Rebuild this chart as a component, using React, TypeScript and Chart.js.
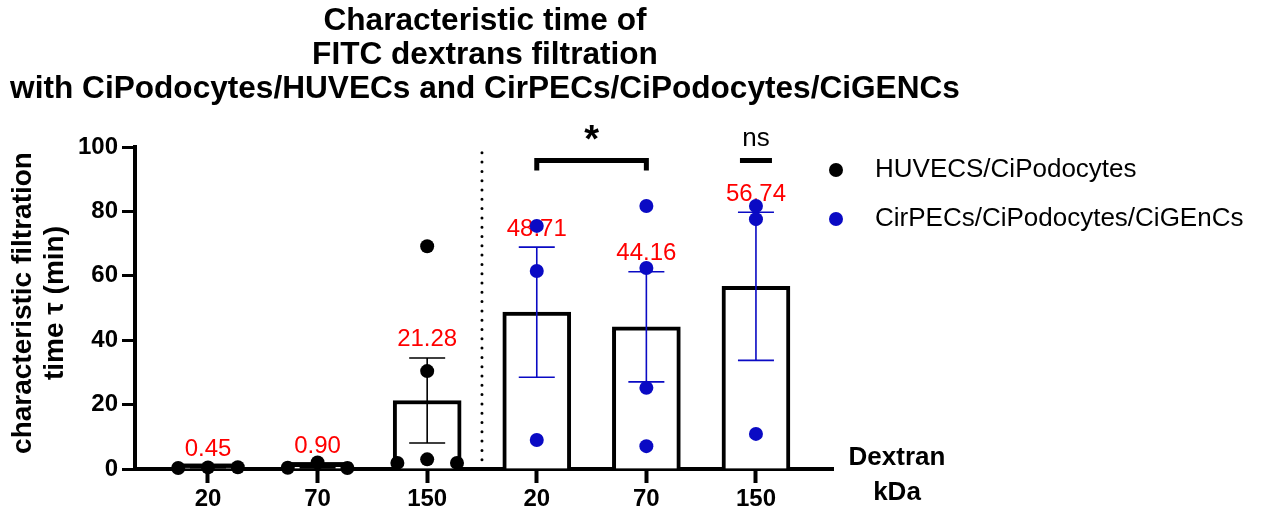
import React, { useEffect, useRef } from "react";
import { Chart, registerables } from "chart.js";

Chart.register(...registerables);

// ---------- data ----------
const categories = ["20", "70", "150", "20", "70", "150"];
const barMeans = [0.45, 0.9, 21.28, 48.71, 44.16, 56.74];
const barSems = [0.07, 0.55, 13.2, 20.2, 17.1, 23.0];
const meanLabels = ["0.45", "0.90", "21.28", "48.71", "44.16", "56.74"];
const barGroup = [0, 0, 0, 1, 1, 1];

// HUVECS/CiPodocytes individual points (category index, jitter slot, value)
const huvecCat = [0, 0, 0, 1, 1, 1, 2, 2, 2, 2, 2];
const huvecSlot = [-1, 0, 1, -1, 0, 1, -1, 0, 1, 0, 0];
const huvecVal = [0.3, 0.5, 0.55, 0.4, 2.0, 0.3, 1.9, 3.0, 1.9, 30.4, 69.2];

// CirPECs/CiPodocytes/CiGEnCs individual points
const cirCat = [3, 3, 3, 4, 4, 4, 4, 5, 5, 5];
const cirSlot = [0, 0, 0, 0, 0, 0, 0, 0, 0, 0];
const cirVal = [75.5, 61.5, 9.0, 81.7, 62.4, 25.2, 7.1, 81.7, 77.6, 10.9];

const yTicks = [0, 20, 40, 60, 80, 100];
const legendLabels = ["HUVECS/CiPodocytes", "CirPECs/CiPodocytes/CiGEnCs"];
const titleLines = [
  "Characteristic time of",
  "FITC dextrans filtration",
  "with CiPodocytes/HUVECs and CirPECs/CiPodocytes/CiGENCs",
];
const yTitleLines = ["characteristic filtration", "time τ (min)"];
const xTitleLines = ["Dextran", "kDa"];

// significance annotations (category indices / value level)
const sigFrom = 3;
const sigTo = 4;
const sigLevel = 95.8;
const sigLabel = "*";
const nsAt = 5;
const nsLevel = 95.8;
const nsLabel = "ns";
const separatorAt = 2.5;

// ---------- styles ----------
const FONT = "Arial, 'Liberation Sans', Helvetica, sans-serif";
const BLACK = "#000000";
const BLUE = "#0a0ac4";
const RED = "#ff0000";
const groupColors = [BLACK, BLUE];
const JITTER = 0.272;
const BAR_BORDER = 4;

function drawCentered(ctx: CanvasRenderingContext2D, text: string, cx: number, cy: number) {
  const m = ctx.measureText(text);
  ctx.textAlign = "center";
  ctx.textBaseline = "alphabetic";
  ctx.fillText(text, cx, cy + (m.actualBoundingBoxAscent - m.actualBoundingBoxDescent) / 2);
}

const decorPlugin = {
  id: "decor",
  beforeDatasetsDraw(chart: any) {
    const ctx: CanvasRenderingContext2D = chart.ctx;
    const xs = chart.scales.x;
    const ys = chart.scales.y;
    const xp = xs.getPixelForValue(separatorAt);
    ctx.save();
    ctx.strokeStyle = BLACK;
    ctx.lineWidth = 3;
    ctx.lineCap = "round";
    ctx.setLineDash([0, 9.3]);
    ctx.beginPath();
    ctx.moveTo(xp, ys.getPixelForValue(0));
    ctx.lineTo(xp, ys.getPixelForValue(100));
    ctx.stroke();
    ctx.restore();
  },
  afterDatasetDraw(chart: any, args: any) {
    if (args.index !== 0) return;
    const ctx: CanvasRenderingContext2D = chart.ctx;
    const xs = chart.scales.x;
    const ys = chart.scales.y;
    ctx.save();
    // very short bars: keep the full top border visible (as in the original)
    const meta = chart.getDatasetMeta(0);
    ctx.fillStyle = BLACK;
    meta.data.forEach((el: any) => {
      const h = el.base - el.y;
      if (h < BAR_BORDER * 2) {
        ctx.fillRect(el.x - el.width / 2, el.y - BAR_BORDER, el.width, BAR_BORDER);
      }
    });
    categories.forEach((_, i) => {
      const x = xs.getPixelForValue(i);
      const top = ys.getPixelForValue(barMeans[i] + barSems[i]);
      const bot = ys.getPixelForValue(Math.max(0, barMeans[i] - barSems[i]));
      ctx.strokeStyle = groupColors[barGroup[i]];
      ctx.lineWidth = 1.6;
      ctx.beginPath();
      ctx.moveTo(x, top);
      ctx.lineTo(x, bot);
      ctx.moveTo(x - 18, top);
      ctx.lineTo(x + 18, top);
      ctx.moveTo(x - 18, bot);
      ctx.lineTo(x + 18, bot);
      ctx.stroke();
      ctx.fillStyle = RED;
      ctx.font = `24px ${FONT}`;
      drawCentered(ctx, meanLabels[i], x, top - 20);
    });
    ctx.restore();
  },
  afterDraw(chart: any) {
    const ctx: CanvasRenderingContext2D = chart.ctx;
    const xs = chart.scales.x;
    const ys = chart.scales.y;
    ctx.save();
    ctx.fillStyle = BLACK;
    // title
    ctx.font = `bold 31.6px ${FONT}`;
    ctx.textAlign = "center";
    ctx.textBaseline = "alphabetic";
    titleLines.forEach((t, k) => ctx.fillText(t, 485, 30 + k * 34));
    // y title
    ctx.font = `bold 28px ${FONT}`;
    yTitleLines.forEach((t, k) => {
      ctx.save();
      ctx.translate(23 + k * 32, 303);
      ctx.rotate(-Math.PI / 2);
      ctx.textAlign = "center";
      ctx.textBaseline = "middle";
      ctx.fillText(t, 0, 0);
      ctx.restore();
    });
    // x title
    ctx.font = `bold 26px ${FONT}`;
    xTitleLines.forEach((t, k) => drawCentered(ctx, t, 897, 456 + k * 34));
    // legend
    legendLabels.forEach((t, k) => {
      const cy = 170 + k * 49;
      ctx.fillStyle = groupColors[k];
      ctx.beginPath();
      ctx.arc(836, cy, 7, 0, Math.PI * 2);
      ctx.fill();
      ctx.fillStyle = BLACK;
      ctx.font = `26px ${FONT}`;
      ctx.textAlign = "left";
      ctx.textBaseline = "middle";
      ctx.fillText(t, 875, cy);
    });
    // significance bracket
    const x1 = xs.getPixelForValue(sigFrom);
    const x2 = xs.getPixelForValue(sigTo);
    const yb = ys.getPixelForValue(sigLevel);
    ctx.strokeStyle = BLACK;
    ctx.lineWidth = 5;
    ctx.lineJoin = "miter";
    ctx.beginPath();
    ctx.moveTo(x1, yb + 10);
    ctx.lineTo(x1, yb);
    ctx.lineTo(x2, yb);
    ctx.lineTo(x2, yb + 10);
    ctx.stroke();
    ctx.font = `bold 38px ${FONT}`;
    drawCentered(ctx, sigLabel, (x1 + x2) / 2, yb - 18);
    // ns
    const xn = xs.getPixelForValue(nsAt);
    const yn = ys.getPixelForValue(nsLevel);
    ctx.beginPath();
    ctx.moveTo(xn - 16, yn);
    ctx.lineTo(xn + 16, yn);
    ctx.stroke();
    ctx.font = `26px ${FONT}`;
    drawCentered(ctx, nsLabel, xn, yn - 22);
    ctx.restore();
  },
};

export default function App() {
  const ref = useRef<HTMLCanvasElement | null>(null);
  useEffect(() => {
    if (!ref.current) return;
    Chart.defaults.font.family = FONT;
    const chart = new Chart(ref.current, {
      type: "bar",
      data: {
        datasets: [
          {
            type: "bar",
            data: categories.map((_, i) => ({ x: i, y: barMeans[i] })),
            backgroundColor: "#ffffff",
            borderColor: BLACK,
            borderWidth: BAR_BORDER,
            barThickness: 68,
            order: 2,
          } as any,
          {
            type: "scatter",
            data: huvecVal.map((v, i) => ({ x: huvecCat[i] + huvecSlot[i] * JITTER, y: v })),
            backgroundColor: BLACK,
            borderWidth: 0,
            pointRadius: 7,
            clip: false,
            order: 0,
          } as any,
          {
            type: "scatter",
            data: cirVal.map((v, i) => ({ x: cirCat[i] + cirSlot[i] * JITTER, y: v })),
            backgroundColor: BLUE,
            borderWidth: 0,
            pointRadius: 7,
            clip: false,
            order: 0,
          } as any,
        ],
      },
      options: {
        responsive: false,
        animation: false,
        devicePixelRatio: 1,
        layout: { padding: { top: 147, right: 433, bottom: 0, left: 0 } },
        plugins: {
          legend: { display: false },
          tooltip: { enabled: false },
          title: { display: false },
        },
        scales: {
          x: {
            type: "linear",
            offset: false,
            min: -0.666,
            max: 5.703,
            afterBuildTicks: (s: any) => {
              s.ticks = categories.map((_, i) => ({ value: i }));
            },
            afterFit: (s: any) => {
              s.height = 44;
            },
            ticks: {
              callback: (v: any) => categories[v as number],
              font: { family: FONT, size: 24, weight: "bold" },
              color: BLACK,
              padding: 2,
              autoSkip: false,
              maxRotation: 0,
            },
            grid: {
              display: true,
              offset: false,
              drawOnChartArea: false,
              drawTicks: true,
              tickLength: 14,
              tickWidth: 4,
              tickColor: BLACK,
            },
            border: { display: true, color: BLACK, width: 4 },
          },
          y: {
            type: "linear",
            min: 0,
            max: 100,
            afterBuildTicks: (s: any) => {
              s.ticks = yTicks.map((v) => ({ value: v }));
            },
            afterFit: (s: any) => {
              s.width = 135;
            },
            ticks: {
              font: { family: FONT, size: 24, weight: "bold" },
              color: BLACK,
              padding: 4,
            },
            grid: {
              display: true,
              drawOnChartArea: false,
              drawTicks: true,
              tickLength: 13,
              tickWidth: 3,
              tickColor: BLACK,
            },
            border: { display: true, color: BLACK, width: 4 },
          },
        },
      } as any,
      plugins: [decorPlugin as any],
    });
    return () => chart.destroy();
  }, []);
  return (
    <div style={{ position: "fixed", left: 0, top: 0, width: 1266, height: 513, background: "#fff" }}>
      <canvas ref={ref} width={1266} height={513} style={{ display: "block" }} />
    </div>
  );
}
